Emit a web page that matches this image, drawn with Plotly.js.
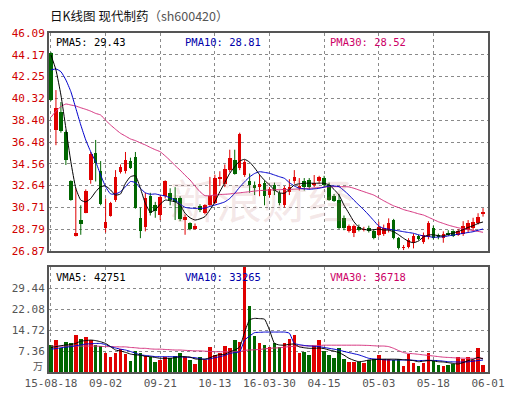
<!DOCTYPE html>
<html>
<head>
<meta charset="utf-8">
<script src="https://cdn.plot.ly/plotly-3.0.1.min.js"></script>
<style>html,body{margin:0;padding:0;background:#fff;}#chart{width:516px;height:398px;}</style>
</head>
<body>
<div id="chart"></div>
<script>
// ---- data ----
const openP  = [44.3,37.54,39.15,37.4,33.0,28.2,29.6,30.25,33.1,35.5,33.9,28.9,30.0,31.4,33.8,33.9,34.8,35.2,29.8,29.0,31.7,30.9,30.05,31.7,32.0,31.5,31.5,29.6,29.3,28.8,30.8,30.2,30.9,31.1,33.2,32.8,34.0,34.9,34.2,33.6,33.0,32.7,32.5,32.9,31.8,32.7,31.95,30.9,32.1,33.0,32.4,33.0,33.1,32.7,33.0,33.3,32.7,31.7,31.4,29.8,28.6,28.5,29.0,28.7,28.9,28.6,28.3,28.4,28.7,29.6,28.0,27.1,27.25,27.55,28.15,27.7,28.1,28.9,28.3,28.0,28.5,28.6,28.3,28.4,28.7,28.9,29.3,30.1];
const highP  = [44.4,41.06,40.0,37.5,33.1,32.4,30.9,32.3,35.6,36.66,34.8,31.5,31.2,34.0,34.5,35.6,35.1,35.6,30.7,32.0,32.0,31.2,31.8,33.1,32.4,32.5,31.7,30.1,29.4,29.3,31.0,31.0,33.4,33.6,33.9,34.5,35.8,35.8,37.3,34.9,33.7,33.0,33.6,33.1,32.5,32.9,32.2,32.6,33.2,34.0,33.3,33.3,33.3,33.57,33.5,33.5,32.9,31.9,31.9,30.0,29.2,29.2,29.2,29.0,29.1,28.8,29.45,29.2,29.75,29.7,28.1,27.4,28.0,28.4,28.3,28.5,29.5,29.1,28.4,28.6,28.7,28.7,28.8,29.5,29.6,29.8,30.2,30.65];
const lowP   = [40.1,36.2,37.3,34.45,31.3,28.15,28.3,30.2,32.8,33.0,30.9,28.5,29.9,31.2,33.7,33.7,34.1,30.6,28.0,28.6,30.0,29.8,29.6,31.5,30.9,29.6,29.5,28.3,28.7,28.75,30.3,30.1,30.8,31.0,32.6,32.5,33.8,33.6,34.0,33.4,32.0,31.8,31.7,30.9,31.6,31.8,30.9,30.7,31.8,32.8,32.2,32.2,32.3,32.5,32.8,32.5,31.3,31.2,28.8,28.7,28.5,28.1,28.6,28.6,28.5,27.9,28.15,28.2,28.5,27.9,27.0,26.95,27.1,27.1,27.8,27.5,27.9,27.9,27.9,27.6,28.2,28.1,28.2,28.2,28.5,28.6,29.2,29.9];
const closeP = [40.2,39.45,37.45,34.9,31.4,28.45,29.25,32.2,35.4,34.6,31.0,29.4,31.1,33.4,34.3,34.9,34.2,30.7,28.6,31.5,30.2,30.4,31.6,33.0,31.4,31.2,29.7,29.85,28.8,29.1,30.5,30.9,31.7,33.3,33.4,34.1,35.1,33.7,37.2,34.7,32.7,32.4,32.8,31.7,32.3,32.2,31.07,32.4,32.5,33.4,32.6,32.5,32.5,32.85,33.4,32.7,31.4,31.3,28.9,28.9,29.1,29.1,28.7,28.85,28.6,28.0,29.0,28.9,29.3,28.0,27.1,27.25,27.85,28.15,27.95,28.3,29.3,28.0,28.1,28.4,28.3,28.2,28.6,29.1,29.3,29.4,29.9,30.3];
const ma5  = [44.15,42.83,40.62,37.69,34.74,32.4,31.36,31.2,31.5,32.1,32.54,32.6,32.25,31.8,31.9,32.84,33.42,33.5,32.4,31.07,30.3,30.5,31.0,31.36,31.3,31.2,30.9,30.2,29.8,29.6,29.7,29.9,30.5,31.2,32.1,32.9,33.72,34.3,34.8,34.95,34.7,34.2,33.6,33.1,32.7,32.25,32.0,31.96,32.3,32.69,32.8,32.84,32.85,32.84,32.85,32.84,32.7,32.3,31.8,30.92,30.19,29.45,28.96,28.78,28.72,28.75,28.8,28.72,28.7,28.57,28.3,27.99,27.72,27.6,27.75,28.1,28.28,28.3,28.22,28.2,28.35,28.45,28.6,28.75,28.95,29.1,29.3,29.43];
const ma10 = [42.83,42.92,42.68,41.95,40.92,39.45,37.98,36.66,35.62,34.74,33.57,32.54,31.9,31.9,32.1,32.54,33.0,32.9,32.4,32.0,31.87,31.9,31.8,31.72,31.55,31.36,31.0,30.72,30.65,30.63,30.63,30.65,30.8,30.92,31.05,31.2,31.5,31.96,32.5,32.98,33.4,33.7,33.86,33.8,33.72,33.57,33.42,33.28,32.9,32.6,32.4,32.35,32.31,32.35,32.4,32.5,32.6,32.6,32.54,32.2,31.8,31.35,30.92,30.5,30.04,29.55,29.07,28.87,28.8,28.72,28.65,28.57,28.5,28.43,28.3,28.2,28.15,28.08,28.1,28.12,28.2,28.28,28.35,28.43,28.5,28.57,28.7,28.81];
const ma30 = [38.66,39.2,39.6,39.83,39.74,39.65,39.5,39.36,39.2,39.0,38.86,38.4,37.98,37.6,37.25,37.0,36.75,36.6,36.4,36.22,36.0,35.8,35.62,35.25,34.85,34.4,34.0,33.55,33.13,32.6,32.1,31.75,31.75,31.8,31.85,31.87,31.9,31.96,32.0,32.05,32.1,32.15,32.2,32.22,32.25,32.26,32.28,32.29,32.3,32.32,32.34,32.37,32.4,32.43,32.46,32.5,32.54,32.54,32.54,32.54,32.52,32.4,32.25,32.1,31.95,31.8,31.55,31.3,31.07,30.85,30.7,30.52,30.4,30.28,30.15,30.04,29.85,29.65,29.45,29.3,29.15,29.03,28.92,28.82,28.75,28.68,28.6,28.52];
const volume = [9.46,11.2,8.3,10.6,10.05,12.97,11.57,12.4,11.2,9.46,9.23,6.78,5.37,6.54,8.06,6.19,3.85,7.36,6.54,5.72,5.37,3.39,4.2,5.37,5.02,5.72,6.54,5.37,4.2,2.92,5.26,4.2,8.88,5.96,6.54,9.23,8.3,11.2,10.6,42.0,23.2,12.6,10.0,9.4,8.65,10.0,8.65,10.0,11.4,12.97,6.78,7.0,5.96,9.1,11.2,7.5,5.96,4.8,8.3,4.45,3.5,3.5,3.5,3.27,4.1,4.45,5.96,4.45,4.45,4.1,4.45,2.1,6.3,3.27,2.1,3.27,6.78,3.97,2.45,2.1,2.45,2.8,5.14,4.45,5.14,4.1,8.5,2.45];
const vma5  = [8.6,8.9,9.2,9.46,9.6,10.05,10.8,11.0,11.2,11.0,10.6,10.0,8.87,7.7,7.36,6.9,6.3,6.0,5.9,5.5,5.37,5.1,4.8,4.79,4.8,5.0,5.37,5.37,5.2,4.6,4.45,4.5,5.0,5.72,6.1,6.2,7.1,7.7,8.8,14.0,18.3,18.8,18.7,18.5,14.7,10.05,9.46,9.4,9.7,9.8,8.8,8.5,8.3,8.3,8.4,8.2,7.7,7.3,6.8,5.9,4.8,4.1,3.6,3.8,4.2,4.3,4.45,4.5,4.5,4.5,4.45,4.3,4.2,4.0,3.6,3.8,4.0,3.9,3.6,3.5,3.27,3.0,2.8,3.3,4.0,4.4,5.1,4.6];
const vma10 = [8.0,8.2,8.5,8.7,8.9,9.2,9.5,9.8,9.9,10.0,10.0,9.6,8.9,8.4,8.0,7.7,7.2,6.6,6.0,5.8,5.6,5.4,5.37,5.37,5.37,5.37,5.3,5.2,5.14,5.0,4.7,4.45,4.6,5.0,5.37,5.8,6.5,6.8,7.1,11.2,12.6,13.8,13.9,14.0,14.0,14.0,14.0,14.0,13.6,10.0,9.6,9.3,9.1,9.0,8.9,8.6,8.3,8.0,7.7,7.2,6.8,6.4,6.0,5.4,4.8,4.6,4.45,4.3,4.2,4.2,4.2,4.2,4.2,4.1,4.0,4.05,4.1,4.05,4.0,3.8,3.6,3.55,3.5,3.5,3.55,3.8,4.0,4.2];
const vma30 = [9.1,9.1,9.1,9.1,9.1,9.1,9.1,9.1,9.1,9.1,9.0,8.9,8.9,8.85,8.8,8.8,8.6,8.5,8.3,8.3,8.1,8.0,8.0,7.9,7.8,7.7,7.7,7.6,7.5,7.4,7.4,7.3,7.2,7.1,7.1,7.1,7.1,7.1,7.1,7.6,7.7,7.8,7.9,8.1,8.3,8.4,8.5,8.7,8.9,9.0,9.1,9.2,9.2,9.3,9.3,9.4,9.4,9.4,9.4,9.4,9.4,9.4,9.4,9.35,9.3,9.2,9.1,9.1,8.9,8.3,7.5,6.8,6.5,6.4,6.2,6.0,5.8,5.6,5.4,5.2,5.1,5.0,4.9,4.85,4.8,4.8,4.8,4.8];
const xTickPos   = [0,11,22,33,44,55,66,77,88];
const xTickText  = ['15-08-18','09-02','09-21','10-13','16-03-30','04-15','05-03','05-18','06-01'];
const priceTicks = [26.87,28.79,30.71,32.64,34.56,36.48,38.40,40.32,42.25,44.17,46.09];
const volTicks   = [7.36,14.72,22.08,29.44];
const volUnit    = '万';
const legendMain = ['PMA5: 29.43','PMA10: 28.81','PMA30: 28.52'];
const legendVol  = ['VMA5: 42751','VMA10: 33265','VMA30: 36718'];

// ---- styling ----
const RED = '#e00000', GREEN = '#006600';
const C_MA5 = '#000000', C_MA10 = '#0000cc', C_MA30 = '#d6337f';
const MONO = 'DejaVu Sans Mono, monospace';

const idx = openP.map((_, i) => i);
const up = idx.map(i => closeP[i] >= openP[i]);
const colors = up.map(u => u ? RED : GREEN);

function wick(isUp) {
  const xs = [], ys = [];
  idx.forEach(i => { if (up[i] === isUp) { xs.push(i, i, null); ys.push(lowP[i], highP[i], null); } });
  return {type:'scatter', mode:'lines', x:xs, y:ys, xaxis:'x', yaxis:'y',
          line:{color:isUp?RED:GREEN, width:1}, hoverinfo:'skip'};
}
const bodies = {
  type:'bar', x:idx, base:idx.map(i => Math.min(openP[i], closeP[i])),
  y:idx.map(i => Math.max(Math.abs(closeP[i]-openP[i]), 0.06)),
  width:0.72, marker:{color:colors, line:{width:0}}, xaxis:'x', yaxis:'y'
};
function maLine(arr, color, ax) {
  return {type:'scatter', mode:'lines', x:idx, y:arr, xaxis:ax[0], yaxis:ax[1],
          line:{color:color, width:1, shape:'spline', smoothing:0.5}, hoverinfo:'skip'};
}
const volBars = {type:'bar', x:idx, y:volume, width:0.72, marker:{color:colors, line:{width:0}},
                 xaxis:'x2', yaxis:'y2'};

const data = [wick(true), wick(false), bodies,
  maLine(ma30, C_MA30, ['x','y']), maLine(ma10, C_MA10, ['x','y']), maLine(ma5, C_MA5, ['x','y']),
  volBars,
  maLine(vma30, C_MA30, ['x2','y2']), maLine(vma10, C_MA10, ['x2','y2']), maLine(vma5, C_MA5, ['x2','y2'])];

const W = 516, H = 398, L = 49, R = 28, T = 33, B = 26;
const PH = H - T - B, PW = W - L - R;
const mainBottom = (H - B - 251) / PH;
const volTop = (H - B - 267) / PH;

const gridCommon = {showgrid:true, gridcolor:'#8a8a8a', gridwidth:1, griddash:'dot', zeroline:false,
  showline:true, mirror:true, linecolor:'#555', linewidth:2, ticks:'', fixedrange:true};

function legendAnn(texts, yPix) {
  const xs = [54, 183, 328], cols = [C_MA5, '#0000aa', '#cc0066'];
  return texts.map((t, k) => ({text:t, xref:'paper', yref:'paper', x:(xs[k]-L)/PW, y:(H-B-yPix)/PH,
    xanchor:'left', yanchor:'middle', showarrow:false, font:{family:MONO, size:10.5, color:cols[k]}}));
}

const layout = {
  width:W, height:H, margin:{l:L, r:R, t:T, b:B}, paper_bgcolor:'#fff', plot_bgcolor:'#fff',
  showlegend:false, bargap:0, barmode:'overlay', hovermode:false,
  title:{text:'日K线图 现代制药<span style="color:#555">（sh600420）</span>', xref:'container', yref:'container',
         x:50/W, xanchor:'left', y:1-17/H, yanchor:'middle',
         font:{family:'Noto Sans CJK SC, sans-serif', size:12.5, color:'#111'}},
  xaxis:Object.assign({}, gridCommon, {domain:[0,1], anchor:'y', range:[-0.4,88], tickvals:xTickPos, showticklabels:false}),
  yaxis:Object.assign({}, gridCommon, {domain:[mainBottom,1], anchor:'x', range:[26.87,46.09], tickvals:priceTicks,
        ticktext:priceTicks.map(v => v.toFixed(2)), tickfont:{family:MONO, size:11, color:'#d00000'}}),
  xaxis2:Object.assign({}, gridCommon, {domain:[0,1], anchor:'y2', matches:'x', range:[-0.4,88], tickvals:xTickPos,
        ticktext:xTickText, tickfont:{family:MONO, size:11, color:'#555'}}),
  yaxis2:Object.assign({}, gridCommon, {domain:[0,volTop], anchor:'x2', range:[0,36.8], tickvals:volTicks,
        ticktext:volTicks.map(v => v.toFixed(2)), tickfont:{family:MONO, size:11, color:'#555'}}),
  annotations: [].concat(legendAnn(legendMain, 42), legendAnn(legendVol, 277), [
    {text:volUnit, xref:'paper', yref:'paper', x:-4/PW, y:(H-B-365)/PH, showarrow:false,
     xanchor:'right', yanchor:'middle', font:{family:'Noto Sans CJK SC, sans-serif', size:10, color:'#555'}},
    {text:'新浪财经', xref:'paper', yref:'paper', x:(262-L)/PW, y:(H-B-198)/PH, showarrow:false,
     xanchor:'center', yanchor:'middle', font:{family:'Noto Sans CJK SC, serif', size:46, color:'rgba(190,110,110,0.16)'}}
  ])
};

Plotly.newPlot('chart', data, layout, {staticPlot:true, displayModeBar:false});
</script>
</body>
</html>
